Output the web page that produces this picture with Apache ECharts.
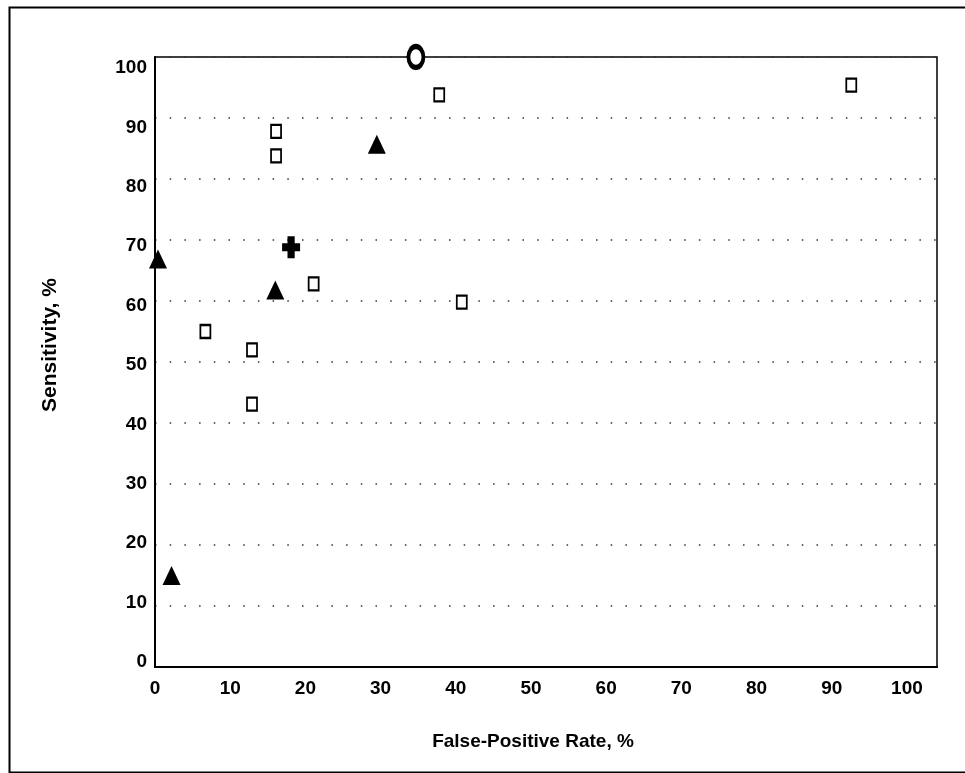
<!DOCTYPE html>
<html>
<head>
<meta charset="utf-8">
<script src="https://cdn.jsdelivr.net/npm/echarts@6/dist/echarts.min.js"></script>
<style>
html,body{margin:0;padding:0;background:#fff;}
#chart{width:965px;height:773px;}
</style>
</head>
<body>
<div id="chart"></div>
<script>
// Data: [false-positive rate %, sensitivity %]
var squarePoints = [
  [37.8, 93.8], [16.1, 87.8], [16.1, 83.8], [21.1, 62.8], [40.8, 59.8],
  [6.7, 55.0], [12.9, 52.0], [12.9, 43.1], [92.6, 95.4]
];
var trianglePoints = [
  [29.5, 85.7], [0.4, 66.9], [16.0, 61.8], [2.2, 15.0]
];
var crossPoints = [
  [18.1, 68.8]
];
var ringPoints = [
  [34.7, 100]
];
var xTickValues = [0, 10, 20, 30, 40, 50, 60, 70, 80, 90, 100];
var yTickValues = [0, 10, 20, 30, 40, 50, 60, 70, 80, 90, 100];
var xAxisTitle = 'False-Positive Rate, %';
var yAxisTitle = 'Sensitivity, %';

var FONT = '"Liberation Sans", Arial, Helvetica, sans-serif';
var chart = echarts.init(document.getElementById('chart'), null, {renderer: 'canvas'});

var option = {
  animation: false,
  backgroundColor: '#fff',
  grid: [
    {left: 155, top: 57, width: 782, height: 610, show: true, borderColor: '#000', borderWidth: 1.5, backgroundColor: 'transparent'},
    {left: 155, top: 68, width: 782, height: 594, show: false}
  ],
  xAxis: [
    {
      type: 'value', gridIndex: 0, min: 0, max: 104, interval: 10,
      axisLine: {show: true, lineStyle: {color: '#000', width: 2}},
      axisTick: {show: false},
      splitLine: {show: false},
      axisLabel: {
        show: true, margin: 12, color: '#000', fontFamily: FONT, fontWeight: 'bold', fontSize: 19,
        showMaxLabel: false,
        formatter: function (v) { return xTickValues.indexOf(v) >= 0 ? String(v) : ''; }
      }
    },
    {type: 'value', gridIndex: 1, min: 0, max: 100, show: false}
  ],
  yAxis: [
    {
      type: 'value', gridIndex: 0, min: 0, max: 100, interval: 10,
      axisLine: {show: true, lineStyle: {color: '#000', width: 2}},
      axisTick: {show: false},
      axisLabel: {show: false},
      splitLine: {show: true, lineStyle: {color: '#333', width: 1.5, type: [1.5, 13.2]}}
    },
    {
      type: 'value', gridIndex: 1, min: 0, max: 100, interval: 10,
      axisLine: {show: false}, axisTick: {show: false}, splitLine: {show: false},
      axisLabel: {
        show: true, margin: 8, color: '#000', fontFamily: FONT, fontWeight: 'bold', fontSize: 19,
        formatter: function (v) { return yTickValues.indexOf(v) >= 0 ? String(v) : ''; }
      }
    }
  ],
  graphic: [
    {type: 'rect', left: 7, top: 5, z: -10, silent: true,
     shape: {x: 0, y: 0, width: 970, height: 765},
     style: {fill: 'none', stroke: '#000', lineWidth: 2}},
    {type: 'text', x: 533, y: 742, silent: true,
     style: {text: xAxisTitle, font: 'bold 19px ' + FONT, fill: '#000', textAlign: 'center', textVerticalAlign: 'middle'}},
    {type: 'text', x: 50, y: 345, rotation: Math.PI / 2, silent: true,
     style: {text: yAxisTitle, font: 'bold 21px ' + FONT, fill: '#000', textAlign: 'center', textVerticalAlign: 'middle'}}
  ],
  series: [
    {
      type: 'scatter', xAxisIndex: 0, yAxisIndex: 0, clip: false, z: 5,
      data: squarePoints, symbol: 'rect', symbolSize: [10, 13],
      itemStyle: {color: '#fff', borderColor: '#000', borderWidth: 2, opacity: 1}
    },
    {
      type: 'scatter', xAxisIndex: 0, yAxisIndex: 0, clip: false, z: 5,
      data: trianglePoints, symbol: 'triangle', symbolSize: [18, 19],
      itemStyle: {color: '#000', opacity: 1}
    },
    {
      type: 'scatter', xAxisIndex: 0, yAxisIndex: 0, clip: false, z: 5,
      data: crossPoints,
      symbol: 'path://M6,0 H14 V7 H20 V15 H14 V22 H6 V15 H0 V7 H6 Z',
      symbolSize: [18, 22],
      itemStyle: {color: '#000', opacity: 1}
    },
    {
      type: 'scatter', xAxisIndex: 0, yAxisIndex: 0, clip: false, z: 6,
      data: ringPoints, symbol: 'circle', symbolSize: [15, 21],
      itemStyle: {color: '#fff', borderColor: '#000', borderWidth: 4.5, opacity: 1}
    }
  ]
};
chart.setOption(option);
</script>
</body>
</html>
